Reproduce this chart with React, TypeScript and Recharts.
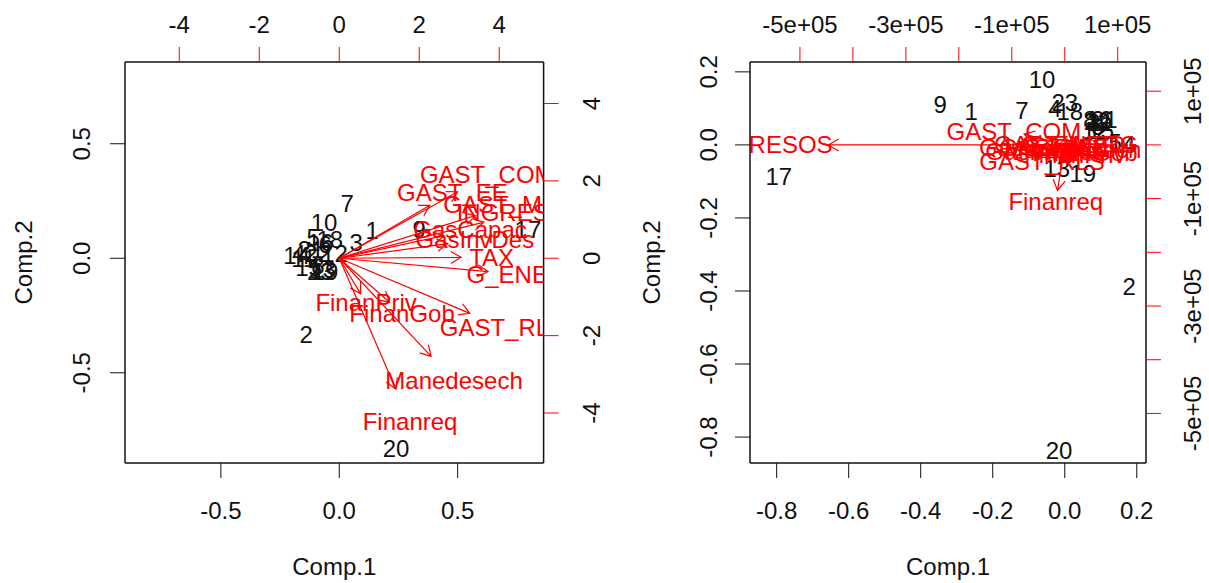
import React from 'react';
import { ScatterChart, Scatter, XAxis, YAxis, Label } from 'recharts';

const FONT = '"Liberation Sans", Arial, sans-serif';
const RED = '#ff0000';

// observations (row numbers of the data)
const obsLabels = ['1', '2', '3', '4', '5', '6', '7', '8', '9', '10', '11', '12', '13', '14', '15', '16', '17', '18', '19', '20', '21', '22', '23'];

// left biplot (scaled PCA)
const leftComp1 = [0.139, -0.14, 0.071, -0.17, -0.11, -0.06, 0.033, -0.09, 0.337, -0.064, -0.15, -0.02, -0.07, -0.18, -0.13, -0.08, 0.797, -0.04, -0.06, 0.24, -0.12, -0.09, -0.08];
const leftComp2 = [0.119, -0.335, 0.067, 0.02, 0.09, 0.06, 0.237, -0.03, 0.124, 0.154, 0.0, 0.02, -0.05, 0.01, -0.04, 0.07, 0.124, 0.08, -0.06, -0.833, 0.04, 0.02, -0.06];

// right biplot (unscaled PCA)
const rightComp1 = [-0.26, 0.179, 0.08, -0.027, 0.14, 0.09, -0.119, 0.07, -0.346, -0.063, 0.1, 0.085, -0.022, 0.16, 0.1, 0.095, -0.794, 0.014, 0.05, -0.016, 0.11, 0.09, 0.0];
const rightComp2 = [0.09, -0.388, 0.06, 0.1, 0.005, 0.05, 0.093, 0.07, 0.109, 0.178, 0.06, 0.04, -0.064, 0.0, 0.04, 0.07, -0.086, 0.09, -0.078, -0.836, 0.07, 0.065, 0.115];

// variables (loadings, in the top/right axis units)
const varNames = ['INGRESOS', 'GAST_COM', 'GAST_EE', 'GAST_MED', 'GasCapac', 'GasInvDes', 'TAX', 'G_ENERG', 'GAST_RLS', 'FinanPriv', 'FinanGob', 'Manedesech', 'Finanreq'];
const leftVar1 = [4.52, 3.7, 2.83, 4.25, 3.27, 3.39, 3.81, 4.65, 4.08, 0.67, 1.57, 2.87, 1.77];
const leftVar2 = [1.17, 2.15, 1.71, 1.38, 0.73, 0.47, 0.03, -0.43, -1.78, -1.15, -1.42, -3.17, -4.23];
const rightVar1 = [-558000, -96000, -19000, -9000, -55000, -38000, 38000, 28000, -43000, 19000, 38000, 15000, -17000];
const rightVar2 = [0, 25000, -5000, 1000, -5000, -12000, -7000, 1000, -31000, -18000, -14000, -8000, -106000];

// ticks
const leftBottomTicks = [-0.5, 0, 0.5];
const leftBottomLabels = ['-0.5', '0.0', '0.5'];
const leftTopTicks = [-4, -2, 0, 2, 4];
const leftTopLabels = ['-4', '-2', '0', '2', '4'];
const rightBottomTicks = [-0.8, -0.6, -0.4, -0.2, 0, 0.2];
const rightBottomLabels = ['-0.8', '-0.6', '-0.4', '-0.2', '0.0', '0.2'];
const rightTopTicks = [-500000, -400000, -300000, -200000, -100000, 0, 100000];
const rightTopLabels = ['-5e+05', '', '-3e+05', '', '-1e+05', '', '1e+05'];

const ARROW_SCALE = 0.8; // R biplot draws arrows at 0.8 of the label position

const hTick = (values: number[], labels: string[]) => (p: any) => {
  const i = values.indexOf(p.payload.value);
  return (
    <text x={p.x} y={p.y} dy="0.35em" textAnchor="middle" fontFamily={FONT} fontSize={24} fill="#111">
      {i >= 0 ? labels[i] : ''}
    </text>
  );
};

const vTick = (values: number[], labels: string[]) => (p: any) => {
  const i = values.indexOf(p.payload.value);
  return (
    <text x={p.x} y={p.y} dy="0.35em" textAnchor="middle" fontFamily={FONT} fontSize={24} fill="#111"
      transform={`rotate(-90 ${p.x} ${p.y})`}>
      {i >= 0 ? labels[i] : ''}
    </text>
  );
};

const textMark = (color: string) => (p: any) => (
  <text x={p.cx} y={p.cy} dy="0.35em" textAnchor="middle" fontFamily={FONT} fontSize={24} fill={color}>
    {p.payload.label}
  </text>
);

const noMark = () => <g />;

const ArrowLine = (p: any) => {
  const pts = p.points;
  if (!pts || pts.length < 2) return null;
  const a = pts[0];
  const b = pts[1];
  const ang = Math.atan2(b.y - a.y, b.x - a.x);
  const len = 12;
  const w = Math.PI / 6;
  const h1x = b.x - len * Math.cos(ang - w);
  const h1y = b.y - len * Math.sin(ang - w);
  const h2x = b.x - len * Math.cos(ang + w);
  const h2y = b.y - len * Math.sin(ang + w);
  return (
    <path d={`M${a.x},${a.y}L${b.x},${b.y}M${h1x},${h1y}L${b.x},${b.y}L${h2x},${h2y}`}
      stroke={RED} strokeWidth={1.2} fill="none" />
  );
};

const xTitle = (text: string, dy: number) => (p: any) => {
  const vb = p.viewBox || {};
  return (
    <text x={vb.x + vb.width / 2} y={vb.y + dy} dy="0.35em" textAnchor="middle" fontFamily={FONT} fontSize={24} fill="#111">
      {text}
    </text>
  );
};

const yTitle = (text: string, dx: number) => (p: any) => {
  const vb = p.viewBox || {};
  const x = vb.x + dx;
  const y = vb.y + vb.height / 2;
  return (
    <text x={x} y={y} dy="0.35em" textAnchor="middle" fontFamily={FONT} fontSize={24} fill="#111"
      transform={`rotate(-90 ${x} ${y})`}>
      {text}
    </text>
  );
};

type PanelProps = {
  width: number;
  leftW: number;
  rightW: number;
  dom1: [number, number];
  dom2: [number, number];
  ratio: number;
  bTicks: number[];
  bLabels: string[];
  tTicks: number[];
  tLabels: string[];
  lMargin: number;
  rMargin: number;
  titleDx: number;
  obs1: number[];
  obs2: number[];
  var1: number[];
  var2: number[];
};

const Biplot = (props: PanelProps) => {
  const obsData = obsLabels.map((label, i) => ({ x: props.obs1[i], y: props.obs2[i], label }));
  const varData = varNames.map((label, i) => ({ x: props.var1[i], y: props.var2[i], label }));
  const dom1s: [number, number] = [props.dom1[0] * props.ratio, props.dom1[1] * props.ratio];
  const dom2s: [number, number] = [props.dom2[0] * props.ratio, props.dom2[1] * props.ratio];
  const box = { stroke: '#111', strokeWidth: 1.5 };
  return (
    <ScatterChart width={props.width} height={583} margin={{ top: 0, right: 0, bottom: 0, left: 0 }}>
      <XAxis xAxisId="b" type="number" dataKey="x" orientation="bottom" height={120}
        domain={props.dom1} allowDataOverflow ticks={props.bTicks} interval={0}
        axisLine={box} tickLine={{ stroke: '#111' }} tickSize={15} tickMargin={33}
        tick={hTick(props.bTicks, props.bLabels)}>
        <Label content={xTitle('Comp.1', 104)} />
      </XAxis>
      <XAxis xAxisId="t" type="number" dataKey="x" orientation="top" height={62}
        domain={dom1s} allowDataOverflow ticks={props.tTicks} interval={0}
        axisLine={box} tickLine={{ stroke: RED }} tickSize={15} tickMargin={22}
        tick={hTick(props.tTicks, props.tLabels)} />
      <YAxis yAxisId="l" type="number" dataKey="y" orientation="left" width={props.leftW}
        domain={props.dom2} allowDataOverflow ticks={props.bTicks} interval={0}
        axisLine={box} tickLine={{ stroke: '#111' }} tickSize={15} tickMargin={props.lMargin}
        tick={vTick(props.bTicks, props.bLabels)}>
        <Label content={yTitle('Comp.2', props.titleDx)} />
      </YAxis>
      <YAxis yAxisId="r" type="number" dataKey="y" orientation="right" width={props.rightW}
        domain={dom2s} allowDataOverflow ticks={props.tTicks} interval={0}
        axisLine={box} tickLine={{ stroke: RED }} tickSize={15} tickMargin={props.rMargin}
        tick={vTick(props.tTicks, props.tLabels)} />
      <Scatter xAxisId="b" yAxisId="l" data={obsData} shape={textMark('#111')} isAnimationActive={false} />
      <Scatter xAxisId="t" yAxisId="r" data={varData} shape={textMark(RED)} isAnimationActive={false} />
      {varData.map((v) => (
        <Scatter key={v.label} xAxisId="t" yAxisId="r"
          data={[{ x: 0, y: 0 }, { x: v.x * ARROW_SCALE, y: v.y * ARROW_SCALE }]}
          shape={noMark} line={<ArrowLine />} fill={RED} isAnimationActive={false} />
      ))}
    </ScatterChart>
  );
};

export default function App() {
  return (
    <div style={{ position: 'absolute', left: 0, top: 0, width: 1209, height: 583, display: 'flex', background: '#fff' }}>
      <Biplot width={604} leftW={125} rightW={60.4}
        dom1={[-0.905, 0.863]} dom2={[-0.894, 0.857]} ratio={5.92}
        bTicks={leftBottomTicks} bLabels={leftBottomLabels}
        tTicks={leftTopTicks} tLabels={leftTopLabels}
        lMargin={28} rMargin={33} titleDx={24}
        obs1={leftComp1} obs2={leftComp2} var1={leftVar1} var2={leftVar2} />
      <Biplot width={605} leftW={146} rightW={63}
        dom1={[-0.874, 0.2256]} dom2={[-0.871, 0.227]} ratio={680000}
        bTicks={rightBottomTicks} bLabels={rightBottomLabels}
        tTicks={rightTopTicks} tLabels={rightTopLabels}
        lMargin={26} rMargin={32} titleDx={48}
        obs1={rightComp1} obs2={rightComp2} var1={rightVar1} var2={rightVar2} />
    </div>
  );
}
